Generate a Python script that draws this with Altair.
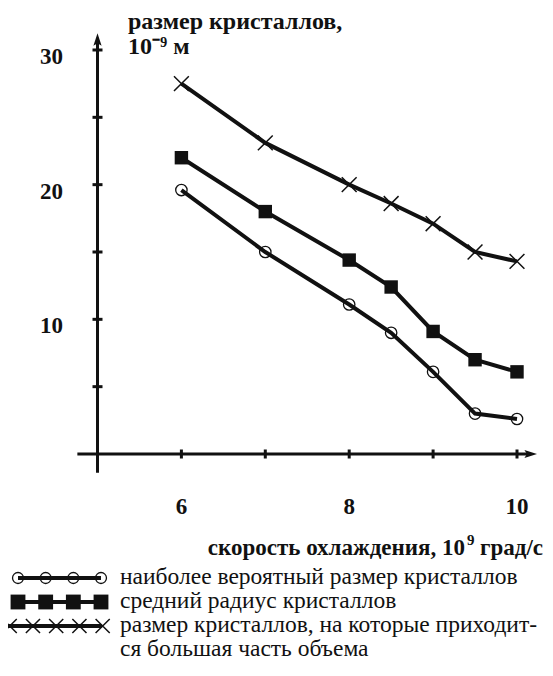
import altair as alt
import pandas as pd
import numpy as np

# ---------------- data ----------------
cooling_rate = [6, 7, 8, 8.5, 9, 9.5, 10]
most_probable = [19.6, 15.0, 11.1, 9.0, 6.1, 3.0, 2.6]
mean_radius = [22.0, 18.0, 14.4, 12.4, 9.1, 7.0, 6.1]
volume_size = [27.5, 23.1, 20.0, 18.6, 17.1, 15.0, 14.3]

series_names = [
    "наиболее вероятный размер кристаллов",
    "средний радиус кристаллов",
    "размер кристаллов, на которые приходит-",
]
legend_extra_line = "ся большая часть объема"

y_ticks = [5, 10, 15, 20, 25, 30]
y_tick_labels = [10, 20, 30]
x_ticks = [6, 7, 8, 9, 10]
x_tick_labels = [6, 8, 10]

y_title = ["размер кристаллов,", "10⁻⁹ м"]
x_title = ["скорость охлаждения, 10", "9", "град/с"]

# axis extents (drawn arrows)
x_axis_start, x_axis_end = 4.76, 10.15
y_axis_start, y_axis_end = -1.4, 30.7
axis_origin_x = 5

# ---------------- geometry ----------------
W, H = 537, 668
PX_X = 83.9      # px per x unit
PX_Y = 13.467    # px per y unit
X5_PAGE = 97.5   # page px of x=5
Y0_PAGE = 454.0  # page px of y=0
xa = 5 - (X5_PAGE - 8) / PX_X
xb = xa + W / PX_X
yb = (Y0_PAGE - 8) / PX_Y
ya = yb - H / PX_Y

xs = alt.Scale(domain=[xa, xb], nice=False, zero=False)
ys = alt.Scale(domain=[ya, yb], nice=False, zero=False)

FONT = "Liberation Serif"
BLACK = "#111111"

df = pd.DataFrame({
    "x": cooling_rate * 3,
    "y": most_probable + mean_radius + volume_size,
    "series": [series_names[0]] * 7 + [series_names[1]] * 7 + [series_names[2]] * 7,
})

def X(f="x"):
    return alt.X(f"{f}:Q", scale=xs, axis=None)

def Y(f="y"):
    return alt.Y(f"{f}:Q", scale=ys, axis=None)

# axes lines
axes_df = pd.DataFrame({
    "x": [axis_origin_x, x_axis_start],
    "x2": [axis_origin_x, x_axis_end],
    "y": [y_axis_start, 0],
    "y2": [y_axis_end, 0],
})
axes = alt.Chart(axes_df).mark_rule(color=BLACK, strokeWidth=3).encode(
    x=X(), x2="x2:Q", y=Y(), y2="y2:Q")

arrow_up = "M0,-1L0.55,0.7L0,0.35L-0.55,0.7Z"
arrow_right = "M1,0L-0.7,0.55L-0.35,0L-0.7,-0.55Z"
arr_up = alt.Chart(pd.DataFrame({"x": [axis_origin_x], "y": [y_axis_end]})).mark_point(
    shape=arrow_up, filled=True, color=BLACK, size=220, opacity=1).encode(x=X(), y=Y())
arr_right = alt.Chart(pd.DataFrame({"x": [x_axis_end], "y": [0]})).mark_point(
    shape=arrow_right, filled=True, color=BLACK, size=220, opacity=1).encode(x=X(), y=Y())

ytick = alt.Chart(pd.DataFrame({"y": y_ticks, "x": [axis_origin_x] * len(y_ticks)})).mark_tick(
    orient="horizontal", size=10, thickness=3, color=BLACK, opacity=1).encode(x=X(), y=Y())
xtick = alt.Chart(pd.DataFrame({"x": x_ticks, "y": [0] * len(x_ticks)})).mark_tick(
    orient="vertical", size=9, thickness=3, color=BLACK, opacity=1).encode(x=X(), y=Y())

ylab = alt.Chart(pd.DataFrame({"y": y_tick_labels, "x": [axis_origin_x] * 3,
                               "t": [str(v) for v in y_tick_labels]})).mark_text(
    font=FONT, fontSize=23, fontWeight="bold", color=BLACK, align="center",
    baseline="middle", dx=-46, dy=7).encode(x=X(), y=Y(), text="t:N")
xlab = alt.Chart(pd.DataFrame({"x": x_tick_labels, "y": [0] * 3,
                               "t": [str(v) for v in x_tick_labels]})).mark_text(
    font=FONT, fontSize=23, fontWeight="bold", color=BLACK, align="center",
    baseline="middle", dy=53).encode(x=X(), y=Y(), text="t:N")

# series
base = alt.Chart(df)
lines = base.mark_line(color=BLACK, strokeWidth=4).encode(
    x=X(), y=Y(), detail="series:N", order="x:Q")
pts_circle = base.transform_filter(alt.datum.series == series_names[0]).mark_point(
    shape="circle", filled=False, fill="white", stroke=BLACK, strokeWidth=1.3,
    size=130, opacity=1, fillOpacity=1).encode(x=X(), y=Y())
pts_square = base.transform_filter(alt.datum.series == series_names[1]).mark_point(
    shape="square", filled=True, color=BLACK, size=180, opacity=1).encode(x=X(), y=Y())
xshape = "M-1,-1L1,1M-1,1L1,-1"
pts_cross = base.transform_filter(alt.datum.series == series_names[2]).mark_point(
    shape=xshape, filled=False, stroke=BLACK, strokeWidth=1.5, size=220,
    opacity=1).encode(x=X(), y=Y())

# titles
def txt(s, x, y, size=20, weight="bold", align="left"):
    return alt.Chart(pd.DataFrame({"t": [s]})).mark_text(
        font=FONT, fontSize=size, fontWeight=weight, color=BLACK, align=align,
        baseline="alphabetic").encode(x=alt.value(x), y=alt.value(y), text="t:N")

y_title_mark = alt.Chart(pd.DataFrame({"a": [0]})).mark_text(
    font=FONT, fontSize=24, fontWeight="bold", color=BLACK, align="left",
    baseline="alphabetic", lineHeight=25, text=y_title).encode(
    x=alt.value(120), y=alt.value(21))

titles = [
    y_title_mark,
    txt(x_title[0], 457, 547, size=23, align="right"),
    txt(x_title[1], 459, 537, size=15),
    txt(x_title[2], 535, 547, size=23, align="right"),
]

main = alt.layer(axes, arr_up, arr_right, ytick, xtick, ylab, xlab,
                 pts_circle, pts_square, pts_cross, lines, *titles)

# legend
leg_rows_y = [570, 594, 618]
leg_text_y = [576, 600, 624, 648]
LX = alt.Scale(domain=[0, 1], range=[10, 93])

def leg_line(ry, x1=7, x2=93):
    return alt.Chart(pd.DataFrame({"a": [0]})).mark_rule(color=BLACK, strokeWidth=4).encode(
        x=alt.value(x1), x2=alt.value(x2), y=alt.value(ry))

k4 = list(np.linspace(0, 1, 4))
k5 = list(np.linspace(-0.1, 1.02, 5))
leg_c = alt.Chart(pd.DataFrame({"k": k4})).mark_point(
    shape="circle", filled=False, fill="white", stroke=BLACK, strokeWidth=1.3,
    size=120, opacity=1, fillOpacity=1).encode(
    x=alt.X("k:Q", scale=LX, axis=None), y=alt.value(leg_rows_y[0]))
leg_s = alt.Chart(pd.DataFrame({"k": k4})).mark_point(
    shape="square", filled=True, color=BLACK, size=220, opacity=1).encode(
    x=alt.X("k:Q", scale=LX, axis=None), y=alt.value(leg_rows_y[1]))
leg_x = alt.Chart(pd.DataFrame({"k": k5})).mark_point(
    shape=xshape, filled=False, stroke=BLACK, strokeWidth=1.5, size=200, opacity=1).encode(
    x=alt.X("k:Q", scale=LX, axis=None), y=alt.value(leg_rows_y[2]))

leg_texts = [txt(s, 112, y, size=23.5, weight="normal")
             for s, y in zip(series_names + [legend_extra_line], leg_text_y)]

legend = alt.layer(leg_c, leg_line(leg_rows_y[0], 10, 93),
                   leg_s, leg_line(leg_rows_y[1], 10, 93),
                   leg_x, leg_line(leg_rows_y[2], 0, 94),
                   *leg_texts)

chart = alt.layer(main, legend).resolve_scale(x="independent", y="independent").properties(
    width=W, height=H, padding=0, autosize=alt.AutoSizeParams(type="none"),
    background="white",
).configure_view(stroke=None)

chart.save("out.html", embed_options={"renderer": "svg", "actions": False})
